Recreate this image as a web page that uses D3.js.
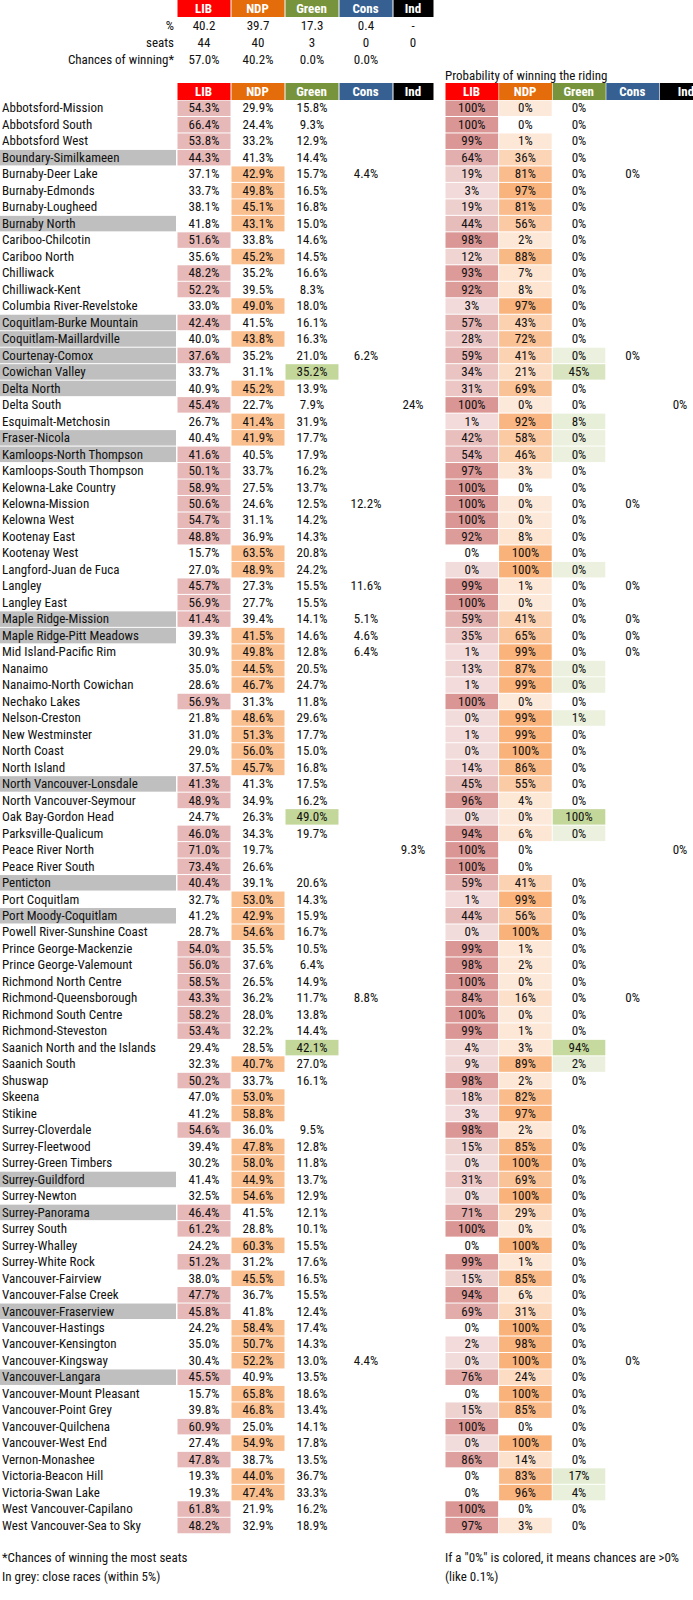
<!DOCTYPE html>
<html><head><meta charset="utf-8">
<script src="https://cdn.jsdelivr.net/npm/d3@7"></script>
<style>
body{margin:0;background:#fff}
text{font-family:"Liberation Sans Narrow","Arial Narrow","Roboto Condensed",sans-serif;font-size:13px;fill:#111}
.hd{font-weight:bold;fill:#fff;font-size:13px}
</style></head><body>
<svg id="chart" width="693" height="1600"></svg>
<script>
const parties = ['LIB', 'NDP', 'Green', 'Cons', 'Ind'];
const partyColor = ['#ff0000', '#e46c0a', '#77933c', '#366092', '#000000'];
const leadColor = ['#e6b8b7', '#fabf8f', '#c4d79b'];
const probLo = ['#f2dcdb', '#fde9d9', '#ebf1de'];
const probHi = ['#da9694', '#f9b27a', '#c4d79b'];

const summaryLabels = ['%', 'seats', 'Chances of winning*'];
const summaryVals = [
  ['40.2', '39.7', '17.3', '0.4', '-'],
  ['44', '40', '3', '0', '0'],
  ['57.0%', '40.2%', '0.0%', '0.0%', '']
];

const ridings = ['Abbotsford-Mission','Abbotsford South','Abbotsford West','Boundary-Similkameen','Burnaby-Deer Lake','Burnaby-Edmonds','Burnaby-Lougheed','Burnaby North','Cariboo-Chilcotin','Cariboo North','Chilliwack','Chilliwack-Kent','Columbia River-Revelstoke','Coquitlam-Burke Mountain','Coquitlam-Maillardville','Courtenay-Comox','Cowichan Valley','Delta North','Delta South','Esquimalt-Metchosin','Fraser-Nicola','Kamloops-North Thompson','Kamloops-South Thompson','Kelowna-Lake Country','Kelowna-Mission','Kelowna West','Kootenay East','Kootenay West','Langford-Juan de Fuca','Langley','Langley East','Maple Ridge-Mission','Maple Ridge-Pitt Meadows','Mid Island-Pacific Rim','Nanaimo','Nanaimo-North Cowichan','Nechako Lakes','Nelson-Creston','New Westminster','North Coast','North Island','North Vancouver-Lonsdale','North Vancouver-Seymour','Oak Bay-Gordon Head','Parksville-Qualicum','Peace River North','Peace River South','Penticton','Port Coquitlam','Port Moody-Coquitlam','Powell River-Sunshine Coast','Prince George-Mackenzie','Prince George-Valemount','Richmond North Centre','Richmond-Queensborough','Richmond South Centre','Richmond-Steveston','Saanich North and the Islands','Saanich South','Shuswap','Skeena','Stikine','Surrey-Cloverdale','Surrey-Fleetwood','Surrey-Green Timbers','Surrey-Guildford','Surrey-Newton','Surrey-Panorama','Surrey South','Surrey-Whalley','Surrey-White Rock','Vancouver-Fairview','Vancouver-False Creek','Vancouver-Fraserview','Vancouver-Hastings','Vancouver-Kensington','Vancouver-Kingsway','Vancouver-Langara','Vancouver-Mount Pleasant','Vancouver-Point Grey','Vancouver-Quilchena','Vancouver-West End','Vernon-Monashee','Victoria-Beacon Hill','Victoria-Swan Lake','West Vancouver-Capilano','West Vancouver-Sea to Sky'];

// vote share: LIB, NDP, Green, Cons, Ind
const votes = [
[54.3,29.9,15.8],[66.4,24.4,9.3],[53.8,33.2,12.9],[44.3,41.3,14.4],[37.1,42.9,15.7,4.4],
[33.7,49.8,16.5],[38.1,45.1,16.8],[41.8,43.1,15.0],[51.6,33.8,14.6],[35.6,45.2,14.5],
[48.2,35.2,16.6],[52.2,39.5,8.3],[33.0,49.0,18.0],[42.4,41.5,16.1],[40.0,43.8,16.3],
[37.6,35.2,21.0,6.2],[33.7,31.1,35.2],[40.9,45.2,13.9],[45.4,22.7,7.9,null,24],[26.7,41.4,31.9],
[40.4,41.9,17.7],[41.6,40.5,17.9],[50.1,33.7,16.2],[58.9,27.5,13.7],[50.6,24.6,12.5,12.2],
[54.7,31.1,14.2],[48.8,36.9,14.3],[15.7,63.5,20.8],[27.0,48.9,24.2],[45.7,27.3,15.5,11.6],
[56.9,27.7,15.5],[41.4,39.4,14.1,5.1],[39.3,41.5,14.6,4.6],[30.9,49.8,12.8,6.4],[35.0,44.5,20.5],
[28.6,46.7,24.7],[56.9,31.3,11.8],[21.8,48.6,29.6],[31.0,51.3,17.7],[29.0,56.0,15.0],
[37.5,45.7,16.8],[41.3,41.3,17.5],[48.9,34.9,16.2],[24.7,26.3,49.0],[46.0,34.3,19.7],
[71.0,19.7,null,null,9.3],[73.4,26.6,null],[40.4,39.1,20.6],[32.7,53.0,14.3],[41.2,42.9,15.9],
[28.7,54.6,16.7],[54.0,35.5,10.5],[56.0,37.6,6.4],[58.5,26.5,14.9],[43.3,36.2,11.7,8.8],
[58.2,28.0,13.8],[53.4,32.2,14.4],[29.4,28.5,42.1],[32.3,40.7,27.0],[50.2,33.7,16.1],
[47.0,53.0,null],[41.2,58.8,null],[54.6,36.0,9.5],[39.4,47.8,12.8],[30.2,58.0,11.8],
[41.4,44.9,13.7],[32.5,54.6,12.9],[46.4,41.5,12.1],[61.2,28.8,10.1],[24.2,60.3,15.5],
[51.2,31.2,17.6],[38.0,45.5,16.5],[47.7,36.7,15.5],[45.8,41.8,12.4],[24.2,58.4,17.4],
[35.0,50.7,14.3],[30.4,52.2,13.0,4.4],[45.5,40.9,13.5],[15.7,65.8,18.6],[39.8,46.8,13.4],
[60.9,25.0,14.1],[27.4,54.9,17.8],[47.8,38.7,13.5],[19.3,44.0,36.7],[19.3,47.4,33.3],
[61.8,21.9,16.2],[48.2,32.9,18.9]];

// probability of winning (%): 0.1 = shown as 0% but above zero
const probs = [
[100,0.1,0],[100,0,0],[99,1,0],[64,36,0],[19,81,0,0],
[3,97,0],[19,81,0],[44,56,0],[98,2,0],[12,88,0],
[93,7,0],[92,8,0],[3,97,0],[57,43,0],[28,72,0],
[59,41,0.1,0],[34,21,45],[31,69,0],[100,0.1,0,null,0],[1,92,8],
[42,58,0.1],[54,46,0.1],[97,3,0],[100,0,0],[100,0.1,0,0],
[100,0.1,0],[92,8,0],[0,100,0],[0.1,100,0.1],[99,1,0,0],
[100,0.1,0],[59,41,0,0],[35,65,0,0],[1,99,0,0],[13,87,0.1],
[1,99,0.1],[100,0.1,0],[0.1,99,1],[1,99,0],[0.1,100,0],
[14,86,0],[45,55,0],[96,4,0],[0.1,0.1,100],[94,6,0.1],
[100,0,null,null,0],[100,0,null],[59,41,0],[1,99,0],[44,56,0],
[0.1,100,0],[99,1,0],[98,2,0],[100,0.1,0],[84,16,0,0],
[100,0.1,0],[99,1,0],[4,3,94],[9,89,2],[98,2,0],
[18,82,null],[3,97,null],[98,2,0],[15,85,0],[0.1,100,0],
[31,69,0],[0.1,100,0],[71,29,0],[100,0.1,0],[0,100,0],
[99,1,0],[15,85,0],[94,6,0],[69,31,0],[0,100,0],
[2,98,0],[0.1,100,0,0],[76,24,0],[0,100,0],[15,85,0],
[100,0,0],[0.1,100,0],[86,14,0],[0,83,17],[0,96,4],
[100,0,0],[97,3,0]];

const svg = d3.select('#chart');
const rowH = 16.48;
const y = d3.scaleBand().domain(d3.range(ridings.length)).range([100, 100 + rowH * ridings.length]);
const xL = d3.scaleBand().domain(parties).range([177, 447]);
const xR = d3.scaleBand().domain(parties).range([445, 713]);
const bw = xL.bandwidth();

function header(g, x, y0) {
  parties.forEach((p, i) => {
    const w = (i === 4 && x === xL) ? bw - 14 : bw - 1;
    g.append('rect').attr('x', x(p) + 0.5).attr('y', y0).attr('width', w).attr('height', 17)
      .attr('fill', partyColor[i]);
    g.append('text').attr('class', 'hd').attr('x', x(p) + w / 2).attr('y', y0 + 13)
      .attr('text-anchor', 'middle').text(p);
  });
}

// summary block
const summary = svg.append('g');
header(summary, xL, 0);
summaryLabels.forEach((lab, r) => {
  const cy = 30 + r * 16.8;
  summary.append('text').attr('x', 174).attr('y', cy).attr('text-anchor', 'end').text(lab);
  summaryVals[r].forEach((v, i) => {
    const w = i === 4 ? bw - 14 : bw;
    summary.append('text').attr('x', xL(parties[i]) + w / 2).attr('y', cy).attr('text-anchor', 'middle').text(v);
  });
});

svg.append('text').attr('x', 445).attr('y', 80).text('Probability of winning the riding');
header(svg.append('g'), xL, 83);
header(svg.append('g'), xR, 83);

const rows = svg.append('g').selectAll('g').data(ridings).join('g')
  .attr('transform', (d, i) => `translate(0,${y(i)})`);

rows.each(function(name, i) {
  const g = d3.select(this);
  const v = votes[i], pr = probs[i];
  const sorted = v.filter(a => a != null).slice().sort((a, b) => b - a);
  const lead = v.indexOf(sorted[0]);
  const close = sorted[0] - sorted[1] < 5;
  if (close) g.append('rect').attr('x', 0).attr('y', 0.5).attr('width', 176).attr('height', rowH - 1).attr('fill', '#bfbfbf');
  g.append('text').attr('x', 2).attr('y', rowH - 4).text(name);

  v.forEach((val, k) => {
    if (val == null) return;
    const w = k === 4 ? bw - 14 : bw;
    if (k === lead && k < 3)
      g.append('rect').attr('x', xL(parties[k]) + 0.5).attr('y', 0.5).attr('width', bw - 1).attr('height', rowH - 1).attr('fill', leadColor[k]);
    g.append('text').attr('x', xL(parties[k]) + w / 2).attr('y', rowH - 4).attr('text-anchor', 'middle')
      .text(k === 4 ? `${val}%` : `${val.toFixed(1)}%`);
  });

  pr.forEach((p, k) => {
    if (p == null) return;
    if (k < 3 && p > 0) {
      const c = d3.interpolateRgb(probLo[k], probHi[k])(Math.min(1, p / 100));
      g.append('rect').attr('x', xR(parties[k]) + 0.5).attr('y', 0.5).attr('width', xR.bandwidth() - 1).attr('height', rowH - 1).attr('fill', c);
    }
    const cx = k === 4 ? 680 : xR(parties[k]) + xR.bandwidth() / 2;
    g.append('text').attr('x', cx).attr('y', rowH - 4).attr('text-anchor', 'middle').text(`${Math.round(p)}%`);
  });
});

const foot = svg.append('g');
foot.append('text').attr('x', 2).attr('y', 1562).text('*Chances of winning the most seats');
foot.append('text').attr('x', 2).attr('y', 1581).text('In grey: close races (within 5%)');
foot.append('text').attr('x', 445).attr('y', 1562).text('If a "0%" is colored, it means chances are >0%');
foot.append('text').attr('x', 445).attr('y', 1581).text('(like 0.1%)');
</script></body></html>
